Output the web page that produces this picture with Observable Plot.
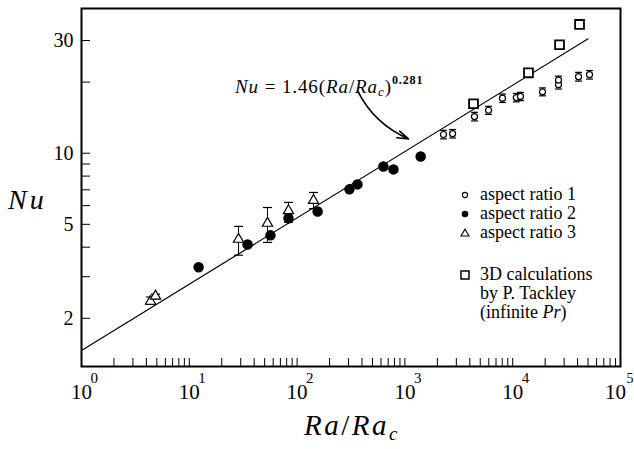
<!DOCTYPE html>
<html><head><meta charset="utf-8">
<script src="https://cdn.jsdelivr.net/npm/d3@7"></script>
<script src="https://cdn.jsdelivr.net/npm/@observablehq/plot@0.6"></script>
<style>
body{margin:0;background:#fff;}
#wrap{position:relative;width:634px;height:449px;font-family:"Liberation Serif","Times New Roman",serif;color:#000;}
.ov{position:absolute;white-space:nowrap;}
.leg{position:absolute;left:458px;font-size:18px;line-height:19px;}
.leg svg{position:absolute;left:0;top:3px;}
.leg span{position:absolute;left:22px;top:0;white-space:nowrap;}
</style></head><body><div id="wrap"></div>
<script>
// aspect ratio 1 (open circles, with error bars)
const ar1Ra = [2280, 2770, 4420, 5970, 8040, 10800, 11800, 18900, 26600, 26600, 40800, 51600];
const ar1Nu = [12.0, 12.1, 14.3, 15.2, 17.1, 17.2, 17.4, 18.2, 19.5, 20.4, 21.1, 21.5];
const ar1Lo = [11.5, 11.6, 13.7, 14.6, 16.4, 16.5, 16.7, 17.5, 18.7, 19.6, 20.2, 20.6];
const ar1Hi = [12.5, 12.6, 14.9, 15.8, 17.8, 17.9, 18.1, 18.9, 20.3, 21.2, 22.0, 22.4];
// aspect ratio 2 (filled circles)
const ar2Ra = [12.2, 34.7, 56.6, 83.2, 155, 306, 363, 632, 783, 1400];
const ar2Nu = [3.29, 4.11, 4.49, 5.30, 5.67, 7.03, 7.38, 8.79, 8.54, 9.69];
// aspect ratio 3 (triangles, with error bars)
const ar3Ra = [4.37, 4.86, 28.6, 53.1, 83.2, 142];
const ar3Nu = [2.36, 2.48, 4.32, 5.05, 5.71, 6.31];
const ar3Lo = [2.29, 2.42, 3.70, 4.19, 5.10, 5.82];
const ar3Hi = [2.46, 2.53, 4.90, 5.89, 6.19, 6.82];
// 3D calculations by P. Tackley (squares)
const tackRa = [4330, 14000, 27200, 41700];
const tackNu = [16.2, 21.9, 28.8, 35.1];
// fit Nu = 1.46 (Ra/Ra_c)^0.281, endpoints
const fitRa = [1, 50000];
const fitNu = [1.46, 30.5];
// annotation arrow (data coordinates)
const arrowFrom = [363, 18.4];
const arrowTo = [1080, 11.5];
// ticks
const xMajor = [1, 10, 100, 1000, 10000, 100000];
const xExp = ["0", "1", "2", "3", "4", "5"];
const xMinor = [2,3,4,5,6,7,8,9,10,20,30,40,50,60,70,80,90,100,200,300,400,500,600,700,800,900,1000,2000,3000,4000,5000,6000,7000,8000,9000,10000,20000,30000,40000,50000,60000,70000,80000,90000];
const yLabels = [2, 5, 10, 30];
const yMinor = [2,3,4,5,6,7,8,9,10,20,30];

const ar1 = ar1Ra.map((x, i) => ({x, y: ar1Nu[i], lo: ar1Lo[i], hi: ar1Hi[i]}));
const ar2 = ar2Ra.map((x, i) => ({x, y: ar2Nu[i]}));
const ar3 = ar3Ra.map((x, i) => ({x, y: ar3Nu[i], lo: ar3Lo[i], hi: ar3Hi[i]}));
const tack = tackRa.map((x, i) => ({x, y: tackNu[i]}));
const fit = fitRa.map((x, i) => ({x, y: fitNu[i]}));
const expo = xMajor.map((x, i) => ({x, e: xExp[i]}));
const expoInner = expo.slice(0, -1);
const expoLast = expo.slice(-1);

const hline = {draw(ctx, size) { const r = Math.sqrt(size / Math.PI); ctx.moveTo(-r, 0); ctx.lineTo(r, 0); }};

function errorMarks(data, cap) {
  return [
    Plot.ruleX(data, {x: "x", y1: "lo", y2: "hi", stroke: "black", strokeWidth: 1}),
    Plot.dot(data, {x: "x", y: "lo", symbol: hline, r: cap, stroke: "black", strokeWidth: 1.2}),
    Plot.dot(data, {x: "x", y: "hi", symbol: hline, r: cap, stroke: "black", strokeWidth: 1.2})
  ];
}

const chart = Plot.plot({
  width: 634, height: 449,
  marginLeft: 81, marginRight: 14, marginTop: 8, marginBottom: 83,
  x: {type: "log", domain: [1, 1e5]},
  y: {type: "log", domain: [1.25, 41]},
  style: {fontFamily: "Liberation Serif, Times New Roman, serif", background: "white", color: "black"},
  marks: [
    Plot.axisX({ticks: xMinor, tickSize: -8, tickFormat: () => "", label: null, strokeWidth: 1}),
    Plot.axisX({ticks: xMajor.slice(0, -1), tickSize: 0, tickPadding: 18, tickFormat: () => "10", label: null, fontSize: 21}),
    Plot.axisX({ticks: xMajor.slice(-1), tickSize: 0, tickPadding: 18, tickFormat: () => "10", label: null, fontSize: 21, dx: -5}),
    Plot.text(expoInner, {x: "x", text: "e", frameAnchor: "bottom", dx: 9, dy: 16, textAnchor: "start", fontSize: 15}),
    Plot.text(expoLast, {x: "x", text: "e", frameAnchor: "bottom", dx: 6, dy: 16, textAnchor: "start", fontSize: 14}),
    Plot.axisY({ticks: yMinor, tickSize: -9, tickFormat: () => "", label: null, strokeWidth: 1}),
    Plot.axisY({ticks: yLabels, tickSize: 0, tickPadding: 8, tickFormat: d => String(d), label: null, fontSize: 20}),
    Plot.line(fit, {x: "x", y: "y", stroke: "black", strokeWidth: 1.2}),
    ...errorMarks(ar1, 3.5),
    ...errorMarks(ar3, 4.5),
    Plot.dot(ar1, {x: "x", y: "y", r: 3, fill: "white", stroke: "black", strokeWidth: 1.2}),
    Plot.dot(ar2, {x: "x", y: "y", r: 4.5, fill: "black", stroke: "black"}),
    Plot.dot(ar3, {x: "x", y: "y", symbol: "triangle", r: 3.8, fill: "white", stroke: "black", strokeWidth: 1.2}),
    Plot.dot(tack, {x: "x", y: "y", symbol: "square", r: 5, fill: "white", stroke: "black", strokeWidth: 1.8}),
    Plot.arrow([{x1: arrowFrom[0], y1: arrowFrom[1], x2: arrowTo[0], y2: arrowTo[1]}], {x1: "x1", y1: "y1", x2: "x2", y2: "y2", bend: -20, headLength: 11, headAngle: 35, stroke: "black", strokeWidth: 1.6}),
    Plot.frame({stroke: "black", strokeWidth: 2})
  ]
});
const wrap = document.getElementById("wrap");
wrap.appendChild(chart);

function ov(html, css) { const d = document.createElement("div"); d.className = "ov"; d.innerHTML = html; Object.assign(d.style, css); wrap.appendChild(d); return d; }
// equation
ov('<i>Nu</i> = 1.46(<i>Ra</i>/<i>Ra</i><sub style="font-size:13px;font-style:italic;vertical-align:-3px">c</sub>)<sup style="font-size:12px;font-weight:bold;vertical-align:9px">0.281</sup>', {left: "235px", top: "70px", fontSize: "19px", lineHeight: "20px", letterSpacing: "0.9px"});
// axis titles
ov('<i>Nu</i>', {left: "8px", top: "185px", fontSize: "28px", lineHeight: "30px", letterSpacing: "3px"});
ov('<i>Ra</i>/<i>Ra</i><sub style="font-size:19px;font-style:italic;vertical-align:-5px">c</sub>', {left: "304px", top: "410px", fontSize: "29px", lineHeight: "30px", letterSpacing: "2.5px"});

// legend
const legendItems = [
  {label: "aspect ratio 1", sym: '<circle cx="7" cy="7" r="2.6" fill="white" stroke="black" stroke-width="1.1"/>', top: 185},
  {label: "aspect ratio 2", sym: '<circle cx="7" cy="7" r="3.3" fill="black"/>', top: 204},
  {label: "aspect ratio 3", sym: '<path d="M7,3.2 L11,10 L3,10 Z" fill="white" stroke="black" stroke-width="1.1"/>', top: 223},
  {label: "3D calculations<br>by P. Tackley<br>(infinite <i>Pr</i>)", sym: '<rect x="3" y="3" width="8" height="8" fill="white" stroke="black" stroke-width="1.5"/>', top: 265}
];
for (const it of legendItems) {
  const d = document.createElement("div");
  d.className = "leg"; d.style.top = it.top + "px";
  d.innerHTML = `<svg width="14" height="14">${it.sym}</svg><span>${it.label}</span>`;
  wrap.appendChild(d);
}
</script></body></html>
